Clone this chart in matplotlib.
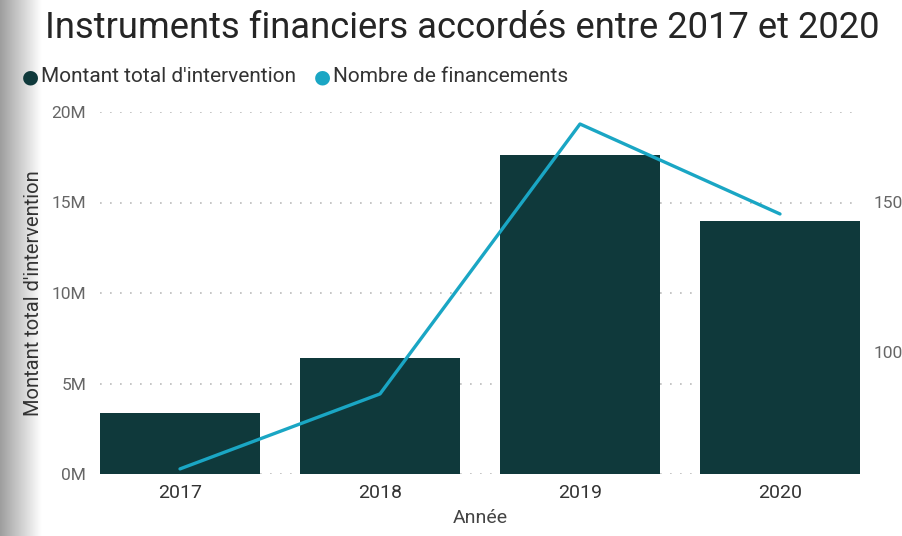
import numpy as np
import matplotlib.pyplot as plt
from matplotlib.ticker import FuncFormatter

# data
years = ["2017", "2018", "2019", "2020"]
montant = [3.37e6, 6.4e6, 17.6e6, 14.0e6]      # Montant total d'intervention
nombre = [61, 86, 176, 146]                    # Nombre de financements

bar_color = "#0f393b"
line_color = "#1aa6c4"
grey_txt = "#666666"

plt.rcParams['font.family'] = ['Roboto', 'DejaVu Sans']

fig = plt.figure(figsize=(9.02, 5.36), dpi=100)

# grey shadow band on the left edge
shade = fig.add_axes([0, 0, 42 / 902, 1])
grad = np.linspace(0.62, 1.0, 64).reshape(1, -1)
shade.imshow(grad, cmap="gray", vmin=0, vmax=1, aspect="auto", extent=[0, 1, 0, 1])
shade.axis("off")

ax = fig.add_axes([100 / 902, 1 - 474 / 536, 760 / 902, (474 - 112) / 536])
x = np.arange(len(years))
ax.bar(x, montant, width=0.8, color=bar_color, zorder=2)
ax.set_xlim(-0.4, 3.4)
ax.set_ylim(0, 20e6)
ax.set_yticks([0, 5e6, 10e6, 15e6, 20e6])
ax.yaxis.set_major_formatter(FuncFormatter(lambda v, p: f"{v / 1e6:.0f}M"))
ax.grid(axis="y", linestyle=(0, (1, 5)), color="#bbbbbb", linewidth=1.2, zorder=0)
ax.set_xticks(x)
ax.set_xticklabels(years, fontsize=14, color="#333333")
ax.tick_params(axis="both", length=0)
ax.tick_params(axis="y", labelsize=12.5, labelcolor=grey_txt, pad=10)
ax.tick_params(axis="x", pad=7)
ax.set_ylabel("Montant total d'intervention", fontsize=14.5, color="#333333", labelpad=6)
ax.set_xlabel("Année", fontsize=14, color="#444444", labelpad=5)
for s in ax.spines.values():
    s.set_visible(False)

ax2 = ax.twinx()
ax2.plot(x, nombre, color=line_color, linewidth=2.4, solid_capstyle="round", zorder=3)
ax2.set_ylim(59.3, 180)
ax2.set_yticks([100, 150])
ax2.tick_params(axis="y", length=0, labelsize=12.5, labelcolor=grey_txt, pad=10)
for s in ax2.spines.values():
    s.set_visible(False)

# title and legend
fig.text(45 / 902, 1 - 28 / 536, "Instruments financiers accordés entre 2017 et 2020",
         fontsize=26.2, color="#252525", va="center", ha="left")
fig.text(30 / 902, 1 - 77 / 536, "●", fontsize=14, color=bar_color, va="center", ha="center",
         family="DejaVu Sans")
fig.text(41 / 902, 1 - 77 / 536, "Montant total d'intervention", fontsize=15, color="#333333",
         va="center", ha="left")
fig.text(322 / 902, 1 - 77 / 536, "●", fontsize=14, color=line_color, va="center", ha="center",
         family="DejaVu Sans")
fig.text(333 / 902, 1 - 77 / 536, "Nombre de financements", fontsize=15, color="#333333",
         va="center", ha="left")

fig.savefig("out.png", dpi=100)
